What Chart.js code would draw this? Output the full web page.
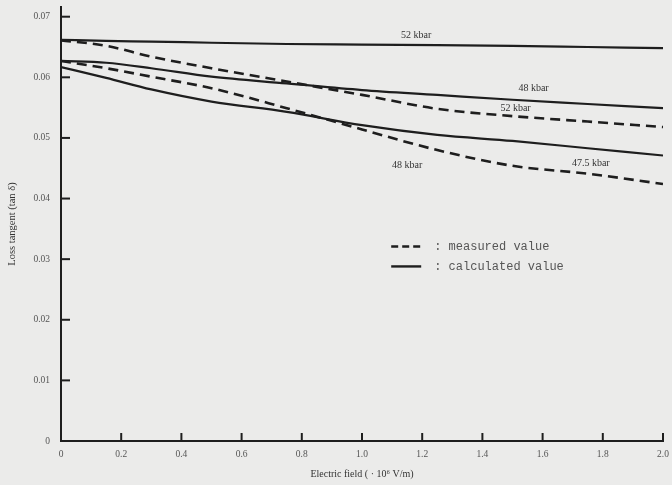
<!DOCTYPE html>
<html><head><meta charset="utf-8">
<script src="https://cdn.jsdelivr.net/npm/chart.js@4.4.0/dist/chart.umd.min.js"></script>
<style>html,body{margin:0;padding:0;background:#ebebea;} #wrap{width:672px;height:485px;position:relative}</style>
</head><body><div id="wrap"><canvas id="c"></canvas></div>
<script>
// Electric field (10^6 V/m)
const fieldValues = [0, 0.15, 0.3, 0.5, 0.75, 1.0, 1.25, 1.5, 1.75, 2.0];
// Loss tangent series
const calc52   = [0.0662, 0.0660, 0.0659, 0.0657, 0.0655, 0.0654, 0.0653, 0.0652, 0.0650, 0.0648];
const meas52   = [0.0661, 0.0652, 0.0634, 0.0615, 0.0593, 0.0571, 0.0548, 0.0536, 0.0527, 0.0518];
const calc48   = [0.0627, 0.0624, 0.0615, 0.0601, 0.0590, 0.0579, 0.0571, 0.0563, 0.0556, 0.0549];
const meas48   = [0.0627, 0.0615, 0.0601, 0.0582, 0.0549, 0.0514, 0.0480, 0.0454, 0.0441, 0.0424];
const calc47_5 = [0.0617, 0.0599, 0.0580, 0.0560, 0.0543, 0.0521, 0.0505, 0.0495, 0.0483, 0.0471];

const xTickValues = [0, 0.2, 0.4, 0.6, 0.8, 1.0, 1.2, 1.4, 1.6, 1.8, 2.0];
const xTickLabels = ['0', '0.2', '0.4', '0.6', '0.8', '1.0', '1.2', '1.4', '1.6', '1.8', '2.0'];
const yTickValues = [0, 0.01, 0.02, 0.03, 0.04, 0.05, 0.06, 0.07];
const yTickLabels = ['0', '0.01', '0.02', '0.03', '0.04', '0.05', '0.06', '0.07'];

const curveLabels = ['52 kbar', '48 kbar', '52 kbar', '48 kbar', '47.5 kbar'];
const curveLabelX = [1.18, 1.57, 1.51, 1.15, 1.76];
const curveLabelY = [0.0670, 0.0581, 0.0548, 0.0455, 0.0458];

const legendTexts = [': measured value', ': calculated value'];
const xTitle = 'Electric field ( \u00b7 10\u2076 V/m)';
const yTitle = 'Loss tangent (tan \u03b4)';

const INK = '#1e1e1e';
function pts(ys) { return fieldValues.map((x, i) => ({x: x, y: ys[i]})); }
function ds(label, ys, dashed) {
  return {label, data: pts(ys), borderColor: INK, borderWidth: dashed ? 2.6 : 2.2,
    borderDash: dashed ? [10, 6] : [], pointRadius: 0, fill: false,
    cubicInterpolationMode: 'monotone'};
}

const decor = {
  id: 'decor',
  beforeDraw(chart) {
    const ctx = chart.ctx;
    ctx.save(); ctx.fillStyle = '#ebebea'; ctx.fillRect(0, 0, chart.width, chart.height); ctx.restore();
  },
  afterDraw(chart) {
    const ctx = chart.ctx, xs = chart.scales.x, ys = chart.scales.y;
    ctx.save();
    ctx.strokeStyle = INK; ctx.lineWidth = 2;
    const y0 = ys.getPixelForValue(0), x0 = xs.getPixelForValue(0);
    xTickValues.forEach(v => { if (v === 0) return; const px = xs.getPixelForValue(v);
      ctx.beginPath(); ctx.moveTo(px, y0); ctx.lineTo(px, y0 - 8); ctx.stroke(); });
    yTickValues.forEach(v => { if (v === 0) return; const py = ys.getPixelForValue(v);
      ctx.beginPath(); ctx.moveTo(x0, py); ctx.lineTo(x0 + 9, py); ctx.stroke(); });
    // curve labels
    ctx.fillStyle = '#333'; ctx.font = '10px "Liberation Serif"';
    ctx.textAlign = 'center'; ctx.textBaseline = 'middle';
    curveLabels.forEach((t, i) => ctx.fillText(t, xs.getPixelForValue(curveLabelX[i]), ys.getPixelForValue(curveLabelY[i])));
    // legend
    const lx = xs.getPixelForValue(1.097), lw = 30;
    const ly1 = ys.getPixelForValue(0.0321), ly2 = ys.getPixelForValue(0.0288);
    ctx.lineWidth = 2.4;
    ctx.setLineDash([7, 4]);
    ctx.beginPath(); ctx.moveTo(lx, ly1); ctx.lineTo(lx + lw, ly1); ctx.stroke();
    ctx.setLineDash([]);
    ctx.beginPath(); ctx.moveTo(lx, ly2); ctx.lineTo(lx + lw, ly2); ctx.stroke();
    ctx.fillStyle = '#555'; ctx.font = '12px "Liberation Mono"'; ctx.textAlign = 'left';
    ctx.fillText(legendTexts[0], lx + 43, ly1);
    ctx.fillText(legendTexts[1], lx + 43, ly2);
    ctx.restore();
  }
};

new Chart(document.getElementById('c'), {
  type: 'line',
  data: { datasets: [ds('calc 52', calc52, false), ds('meas 52', meas52, true), ds('calc 48', calc48, false), ds('meas 48', meas48, true), ds('calc 47.5', calc47_5, false)] },
  options: {
    responsive: true, maintainAspectRatio: false, animation: false,
    layout: { padding: {top: 7, right: 9, left: 0, bottom: 0} },
    plugins: { legend: {display: false}, tooltip: {enabled: false} },
    scales: {
      x: { type: 'linear', min: 0, max: 2.0,
        afterFit(s) { s.height = 44; s.paddingLeft = 0; s.paddingRight = 0; },
        afterBuildTicks(s) { s.ticks = xTickValues.map(v => ({value: v})); },
        grid: {display: false, drawTicks: false},
        border: {display: true, color: INK, width: 2},
        ticks: { padding: 8, color: '#555', font: {family: 'Liberation Serif', size: 9.5}, maxRotation: 0, autoSkip: false,
          callback: (v) => { const i = xTickValues.findIndex(t => Math.abs(t - v) < 1e-9); return i >= 0 ? xTickLabels[i] : ''; } },
        title: { display: true, text: xTitle, color: '#333', font: {family: 'Liberation Serif', size: 10}, padding: {top: 0, bottom: 5} }
      },
      y: { min: 0, max: 0.0716,
        afterFit(s) { s.width = 61; s.paddingTop = 0; s.paddingBottom = 0; },
        afterBuildTicks(s) { s.ticks = yTickValues.map(v => ({value: v})); },
        grid: {display: false, drawTicks: false},
        border: {display: true, color: INK, width: 2},
        ticks: { padding: 11, color: '#555', font: {family: 'Liberation Serif', size: 9.5}, autoSkip: false,
          callback: (v) => { const i = yTickValues.findIndex(t => Math.abs(t - v) < 1e-9); return i >= 0 ? yTickLabels[i] : ''; } },
        title: { display: true, text: yTitle, color: '#333', font: {family: 'Liberation Serif', size: 10.5}, padding: {top: 6, bottom: 0} }
      }
    }
  },
  plugins: [decor]
});
</script></body></html>
